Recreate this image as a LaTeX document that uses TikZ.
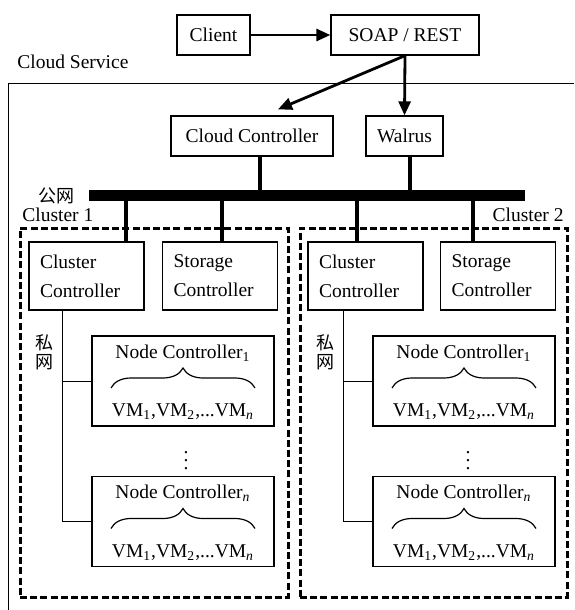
\documentclass[tikz,border=0pt]{standalone}
\usepackage{fontspec}
\setmainfont{Liberation Serif}
\newfontfamily\cjk{Noto Sans CJK SC}
\usetikzlibrary{arrows.meta, positioning, decorations.pathreplacing}

\begin{document}
\begin{tikzpicture}[
  x=0.5pt, y=-0.5pt,
  txt/.style={inner sep=0pt, font=\fontsize{9.75}{14.5}\selectfont},
  box/.style={draw, line width=0.65pt, inner sep=0pt, minimum height=20pt, font=\fontsize{9.75}{14.5}\selectfont},
  ctl/.style={draw, line width=0.65pt, align=left, text width=46.5pt, inner xsep=5.5pt, minimum height=34pt, font=\fontsize{9.75}{14.5}\selectfont},
  nc/.style={draw, line width=0.65pt, minimum width=91pt, minimum height=45pt},
  cluster/.style={draw, line width=1.5pt, dash pattern=on 3.5pt off 1.6pt, minimum width=134pt, minimum height=184.5pt},
  cn/.style={align=center, inner sep=0pt, font=\cjk\fontsize{9}{9.5}\selectfont},
  arr/.style={-{Triangle[length=7pt,width=6pt]}, line width=1.4pt},
  busline/.style={line width=1.6pt},
  priv/.style={line width=0.5pt},
  vmbrace/.style={decorate, decoration={brace, amplitude=10pt}, line width=0.6pt}
]
  \useasboundingbox (0,0) rectangle (574,610);

  % Front end
  \node[box, minimum width=36.5pt] (client) at (213.5,35) {Client};
  \node[box, minimum width=74pt] (soap) at (405,35) {SOAP / REST};

  % Cloud service frame
  \node[txt, anchor=west] (cloudlbl) at (17,62) {Cloud Service};
  \draw[line width=0.5pt] (8,610) -- (8,83.5) -- (574,83.5);
  \node[box, minimum width=81pt] (cloudctl) at (252,136) {Cloud Controller};
  \node[box, minimum width=38.5pt] (walrus) at (404.5,136) {Walrus};

  % Public network
  \node[fill, inner sep=0pt, minimum width=218pt, minimum height=5.5pt] (bus) at (307,195) {};
  \node[cn] (pubnet) at (57,196) {公网};
  \coordinate (tcloud) at (260,195);
  \coordinate (twalrus) at (410,195);
  \coordinate (t1) at (126,195);
  \coordinate (t2) at (222,195);
  \coordinate (t3) at (357,195);
  \coordinate (t4) at (473,195);

  % Clusters
  \node[cluster] (clu1) at (154,412.5) {};
  \node[cluster, minimum width=133.5pt] (clu2) at (433.5,412.5) {};
  \node[txt, anchor=west] (clu1lbl) at (22,215) {Cluster 1};
  \node[txt, anchor=east] (clu2lbl) at (564,215) {Cluster 2};

  \node[ctl] (cc1) at (86.5,276) {Cluster\\Controller};
  \node[ctl] (sc1) at (220,276) {Storage\\Controller};
  \node[ctl] (cc2) at (365.5,276) {Cluster\\Controller};
  \node[ctl] (sc2) at (498,276) {Storage\\Controller};

  % Node controllers
  \node[nc] (nc11) at (183,381) {};
  \node[nc] (nc1n) at (183,521.5) {};
  \node[nc] (nc21) at (464,381) {};
  \node[nc] (nc2n) at (464,521.5) {};

  \node[txt] (nc11t) at ([yshift=14pt]nc11.center) {Node Controller\textsubscript{1}};
  \draw[vmbrace] ([xshift=-36pt,yshift=-3.5pt]nc11.center) -- ([xshift=36pt,yshift=-3.5pt]nc11.center);
  \node[txt] (nc11vm) at ([yshift=-15.5pt]nc11.center) {VM\textsubscript{1},VM\textsubscript{2},...VM\textsubscript{\textit{n}}};

  \node[txt] (nc1nt) at ([yshift=14pt]nc1n.center) {Node Controller\textsubscript{\textit{n}}};
  \draw[vmbrace] ([xshift=-36pt,yshift=-3.5pt]nc1n.center) -- ([xshift=36pt,yshift=-3.5pt]nc1n.center);
  \node[txt] (nc1nvm) at ([yshift=-15.5pt]nc1n.center) {VM\textsubscript{1},VM\textsubscript{2},...VM\textsubscript{\textit{n}}};

  \node[txt] (nc21t) at ([yshift=14pt]nc21.center) {Node Controller\textsubscript{1}};
  \draw[vmbrace] ([xshift=-36pt,yshift=-3.5pt]nc21.center) -- ([xshift=36pt,yshift=-3.5pt]nc21.center);
  \node[txt] (nc21vm) at ([yshift=-15.5pt]nc21.center) {VM\textsubscript{1},VM\textsubscript{2},...VM\textsubscript{\textit{n}}};

  \node[txt] (nc2nt) at ([yshift=14pt]nc2n.center) {Node Controller\textsubscript{\textit{n}}};
  \draw[vmbrace] ([xshift=-36pt,yshift=-3.5pt]nc2n.center) -- ([xshift=36pt,yshift=-3.5pt]nc2n.center);
  \node[txt] (nc2nvm) at ([yshift=-15.5pt]nc2n.center) {VM\textsubscript{1},VM\textsubscript{2},...VM\textsubscript{\textit{n}}};

  \node[txt] (dots1) at (186,455) {$\vdots$};
  \node[txt] (dots2) at (468,455) {$\vdots$};

  % Private networks
  \node[cn] (priv1) at (44,352.5) {私\\网};
  \node[cn] (priv2) at (325,352.5) {私\\网};
  \coordinate (p1) at (62,0);
  \coordinate (p2) at (343,0);

  % Arrows
  \draw[arr] (client) -- (soap);
  \draw[arr] (soap.south) -- ([xshift=13pt,yshift=3pt]cloudctl.north);
  \draw[arr] (soap.south) -- (walrus.north);

  \draw[busline] (tcloud) -- (tcloud |- cloudctl.south);
  \draw[busline] (twalrus) -- (twalrus |- walrus.south);
  \draw[busline] (t1) -- (t1 |- cc1.north);
  \draw[busline] (t2) -- (t2 |- sc1.north);
  \draw[busline] (t3) -- (t3 |- cc2.north);
  \draw[busline] (t4) -- (t4 |- sc2.north);

  \draw[priv] (p1 |- cc1.south) |- (nc1n.west);
  \draw[priv] (p1 |- nc11.west) -- (nc11.west);
  \draw[priv] (p2 |- cc2.south) |- (nc2n.west);
  \draw[priv] (p2 |- nc21.west) -- (nc21.west);

\end{tikzpicture}
\end{document}
